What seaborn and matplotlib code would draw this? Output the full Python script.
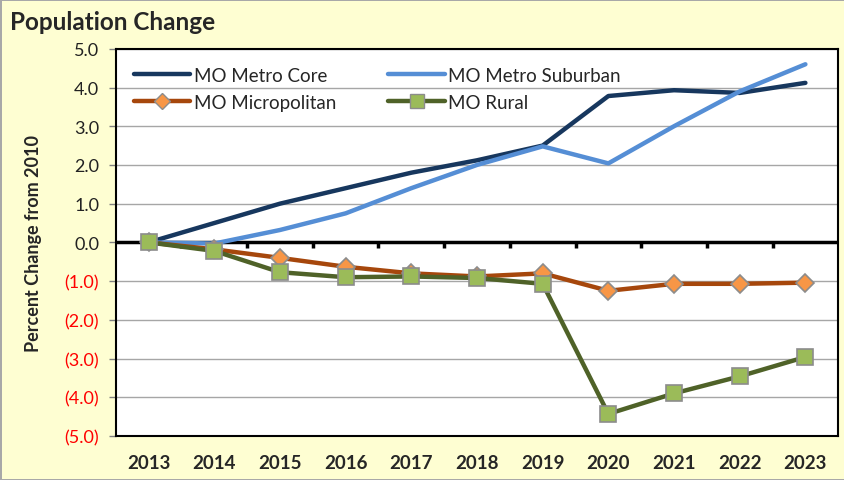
import pandas as pd
import matplotlib.pyplot as plt
import seaborn as sns
from matplotlib.lines import Line2D

sns.set_style("white")
plt.rcParams['font.family'] = ['Lato', 'DejaVu Sans']

# Données
years = ['2013', '2014', '2015', '2016', '2017', '2018', '2019', '2020', '2021', '2022', '2023']
metro_core = [0.0, 0.50, 1.00, 1.40, 1.80, 2.12, 2.50, 3.78, 3.93, 3.86, 4.12]
metro_suburban = [0.0, -0.03, 0.32, 0.75, 1.40, 2.00, 2.48, 2.04, 3.00, 3.90, 4.60]
micropolitan = [0.0, -0.18, -0.40, -0.63, -0.80, -0.88, -0.80, -1.25, -1.07, -1.07, -1.04]
rural = [0.0, -0.22, -0.77, -0.90, -0.88, -0.92, -1.07, -4.43, -3.90, -3.46, -2.96]

series = {
    'MO Metro Core': metro_core,
    'MO Metro Suburban': metro_suburban,
    'MO Micropolitan': micropolitan,
    'MO Rural': rural,
}
styles = {
    'MO Metro Core': dict(color='#17375E', marker=None),
    'MO Metro Suburban': dict(color='#558ED5', marker=None),
    'MO Micropolitan': dict(color='#A6470C', marker='D', mfc='#F79646', ms=9),
    'MO Rural': dict(color='#4F6228', marker='s', mfc='#9BBB59', ms=11),
}

rows = []
for name, vals in series.items():
    for i, v in enumerate(vals):
        rows.append({'Série': name, 'idx': i, 'Valeur': v})
df = pd.DataFrame(rows)

fig = plt.figure(figsize=(8.45, 4.81), dpi=100, facecolor='#FEFED2',
                 edgecolor='#A8A8A8', linewidth=2)
ax = fig.add_axes([0.137, 0.0915, 0.855, 0.805])
ax.set_facecolor('white')

handles = {}
for name in series:
    st = styles[name]
    d = df[df['Série'] == name]
    kw = dict(lw=3.2, color=st['color'], zorder=3)
    if st['marker']:
        kw.update(marker=st['marker'], markersize=st['ms'], markerfacecolor=st['mfc'],
                  markeredgecolor='#8C8C8C', markeredgewidth=1.2)
    sns.lineplot(data=d, x='idx', y='Valeur', ax=ax, legend=False, **kw)
    h = Line2D([], [], lw=3.2, color=st['color'])
    if st['marker']:
        h.set_marker(st['marker'])
        h.set_markersize(st['ms'] - 1)
        h.set_markerfacecolor(st['mfc'])
        h.set_markeredgecolor('#8C8C8C')
    handles[name] = h

ax.set_xlim(-0.5, len(years) - 0.5)
ax.set_ylim(-5, 5)
ax.set_yticks(range(-5, 6))
ax.set_yticklabels([f'{v:.1f}' if v >= 0 else f'({abs(v):.1f})' for v in range(-5, 6)],
                   fontsize=13)
for lbl, v in zip(ax.get_yticklabels(), range(-5, 6)):
    lbl.set_color('red' if v < 0 else '#222222')
ax.set_xticks(range(len(years)))
ax.set_xticklabels(years, fontsize=13.5, fontweight='bold')
ax.tick_params(axis='x', length=0, pad=13)
ax.tick_params(axis='y', length=5, width=1, color='#808080', direction='out', left=True, pad=7)
ax.yaxis.grid(True, color='#A6A6A6', lw=1)
ax.set_axisbelow(True)
for sp in ax.spines.values():
    sp.set_color('black')
    sp.set_linewidth(1.5)

# axe des catégories au niveau de zéro, avec graduations entre les années
ax.axhline(0, color='black', lw=2.5, zorder=2)
ax.vlines([i + 0.5 for i in range(len(years) - 1)], -0.14, 0, color='black', lw=2.5, zorder=2)

ax.set_xlabel('')
ax.set_ylabel('Percent Change from 2010', fontsize=13, fontweight='bold', labelpad=16)

order = ['MO Metro Core', 'MO Micropolitan', 'MO Metro Suburban', 'MO Rural']
ax.legend([handles[n] for n in order], order, loc='upper left', ncol=2, frameon=False,
          fontsize=13.5, handlelength=3.0, handletextpad=0.2, columnspacing=2.8,
          labelspacing=0.55, borderpad=0.45, bbox_to_anchor=(0.0, 1.0))

fig.text(0.012, 0.953, 'Population Change', fontsize=17.5, fontweight='bold', va='center')

fig.savefig('out.png', dpi=100, facecolor=fig.get_facecolor(), edgecolor=fig.get_edgecolor())
